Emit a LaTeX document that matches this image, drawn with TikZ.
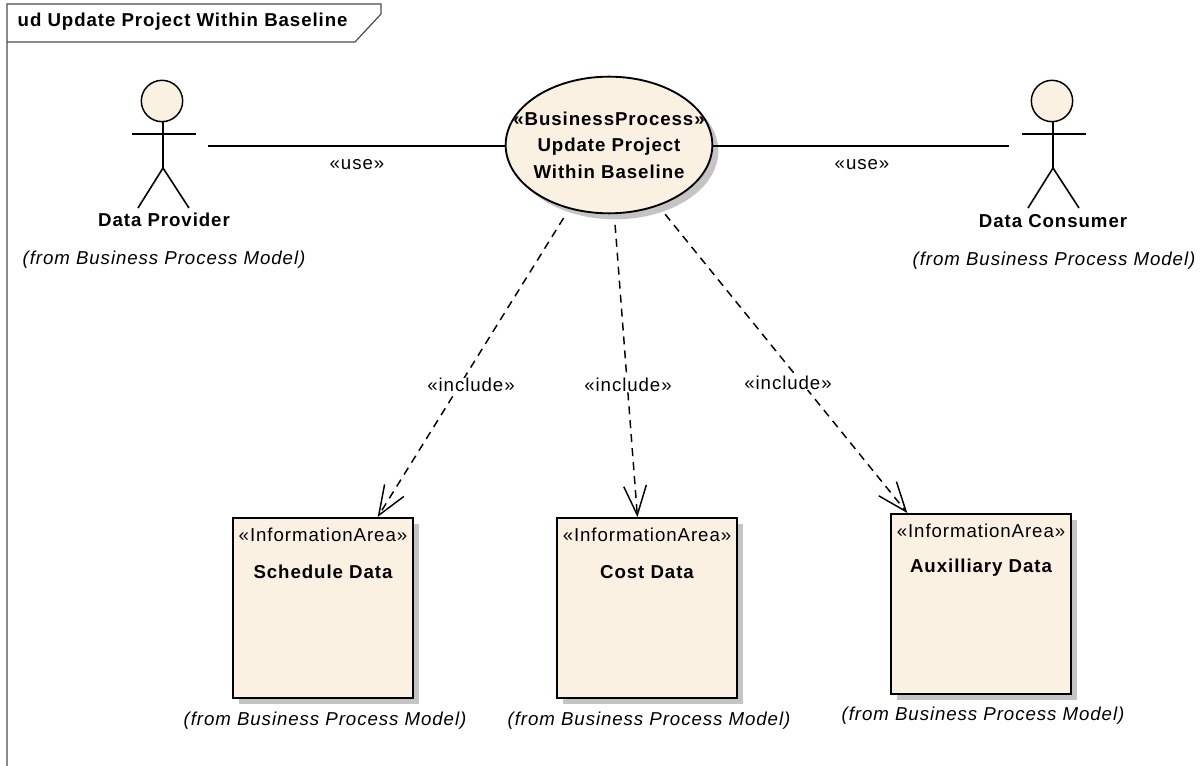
\documentclass[tikz,border=0pt]{standalone}
\usepackage{fontspec}
\setmainfont[LetterSpace=5]{Liberation Sans}
\usetikzlibrary{arrows.meta, shadows, shapes.geometric}
\definecolor{umlfill}{HTML}{FBF1E3}
\definecolor{umlshadow}{HTML}{C4C4C4}
\tikzset{
    umlshadow/.style={drop shadow={shadow xshift=4.5pt, shadow yshift=-4.5pt, fill=umlshadow, opacity=1}},
    usecase/.style={draw, ellipse, fill=umlfill, umlshadow, line width=1.4pt, minimum width=155pt, minimum height=102.5pt, inner sep=0pt},
    infobox/.style={draw, rectangle, fill=umlfill, umlshadow, line width=1.4pt, minimum size=135pt, inner sep=0pt},
    head/.style={draw, circle, fill=umlfill, line width=1.1pt, minimum size=31pt, inner sep=0pt},
    limb/.style={line width=1.2pt},
    assoc/.style={line width=1.2pt},
    incl/.style={line width=1.1pt, dash pattern=on 6pt off 4.5pt, shorten <=8pt, -{Straight Barb[length=22pt, width=17pt, line width=1.1pt]}},
    title/.style={font=\bfseries\fontsize{14}{16}\selectfont},
    ucname/.style={align=center, font=\bfseries\fontsize{14}{20}\selectfont},
    stereo/.style={font=\fontsize{14}{16}\selectfont},
    connlabel/.style={stereo, fill=white, inner sep=0pt},
    origin/.style={font=\itshape\fontsize{14}{16}\selectfont}
}
\begin{document}
\begin{tikzpicture}[x=0.75pt, y=-0.75pt]
    \useasboundingbox (0,0) rectangle (1204,766);

    % Frame with its name tab
    \coordinate (frametop) at (7,4);
    \coordinate (framebot) at (7,766);
    \coordinate (tabcorner) at (381,4);
    \coordinate (tabside) at (381,14);
    \coordinate (tabcut) at (355,42);
    \coordinate (tabbase) at (7,42);
    \draw[black!70, line width=0.9pt] (framebot) -- (frametop) -- (tabcorner) -- (tabside) -- (tabcut) -- (tabbase);
    \node[title, anchor=west] (framename) at (13,22) {ud Update Project Within Baseline};

    % Use case in the middle
    \node[usecase] (uc) at (609,145) {};
    \node[ucname] (ucname) at (609,145) {«BusinessProcess»\\Update Project\\Within Baseline};

    % Information areas
    \node[infobox] (sd) at (323,608) {};
    \node[infobox] (cd) at (647,608) {};
    \node[infobox] (ad) at (981,604) {};
    \node[stereo] (sdst) at (323,535) {«InformationArea»};
    \node[stereo] (cdst) at (647,535) {«InformationArea»};
    \node[stereo] (adst) at (981,531) {«InformationArea»};
    \node[title] (sdname) at (323,572) {Schedule Data};
    \node[title] (cdname) at (647,572) {Cost Data};
    \node[title] (adname) at (981,568) {Auxilliary Data};
    \node[origin] (sdfrom) at (325,721) {(from Business Process Model)};
    \node[origin] (cdfrom) at (649,721) {(from Business Process Model)};
    \node[origin] (adfrom) at (983,716) {(from Business Process Model)};

    % Data provider
    \node[head] (dp) at (162,101) {};
    \coordinate (dphip) at (163,168);
    \coordinate (dparml) at (132,134);
    \coordinate (dparmr) at (196,134);
    \coordinate (dplegl) at (138,208);
    \coordinate (dplegr) at (189,208);
    \coordinate (dpend) at (208,146);
    \draw[limb] (dp.south -| dphip) -- (dphip);
    \draw[limb] (dparml) -- (dparmr);
    \draw[limb] (dplegl) -- (dphip) -- (dplegr);
    \node[title] (dpname) at (164,220) {Data Provider};
    \node[origin] (dpfrom) at (164,260) {(from Business Process Model)};

    % Data consumer
    \node[head] (dc) at (1052,101) {};
    \coordinate (dchip) at (1053,168);
    \coordinate (dcarml) at (1022,134);
    \coordinate (dcarmr) at (1086,134);
    \coordinate (dclegl) at (1028,208);
    \coordinate (dclegr) at (1079,208);
    \coordinate (dcend) at (1009,146);
    \draw[limb] (dc.south -| dchip) -- (dchip);
    \draw[limb] (dcarml) -- (dcarmr);
    \draw[limb] (dclegl) -- (dchip) -- (dclegr);
    \node[title] (dcname) at (1053,221) {Data Consumer};
    \node[origin] (dcfrom) at (1054,261) {(from Business Process Model)};

    % Arrows
    \draw[assoc] (dpend) -- (uc.west |- dpend);
    \draw[assoc] (uc.east |- dcend) -- (dcend);
    \draw[incl] (uc) -- (sd.59);
    \draw[incl] (uc) -- (cd.96);
    \draw[incl] (uc) -- (ad.129);

    % Labels
    \node[stereo] (uselft) at (357,165) {«use»};
    \node[stereo] (usergt) at (862,165) {«use»};
    \node[connlabel] (inclsd) at (471,385) {«include»};
    \node[connlabel] (inclcd) at (628,385) {«include»};
    \node[connlabel] (inclad) at (788,383) {«include»};
\end{tikzpicture}
\end{document}
